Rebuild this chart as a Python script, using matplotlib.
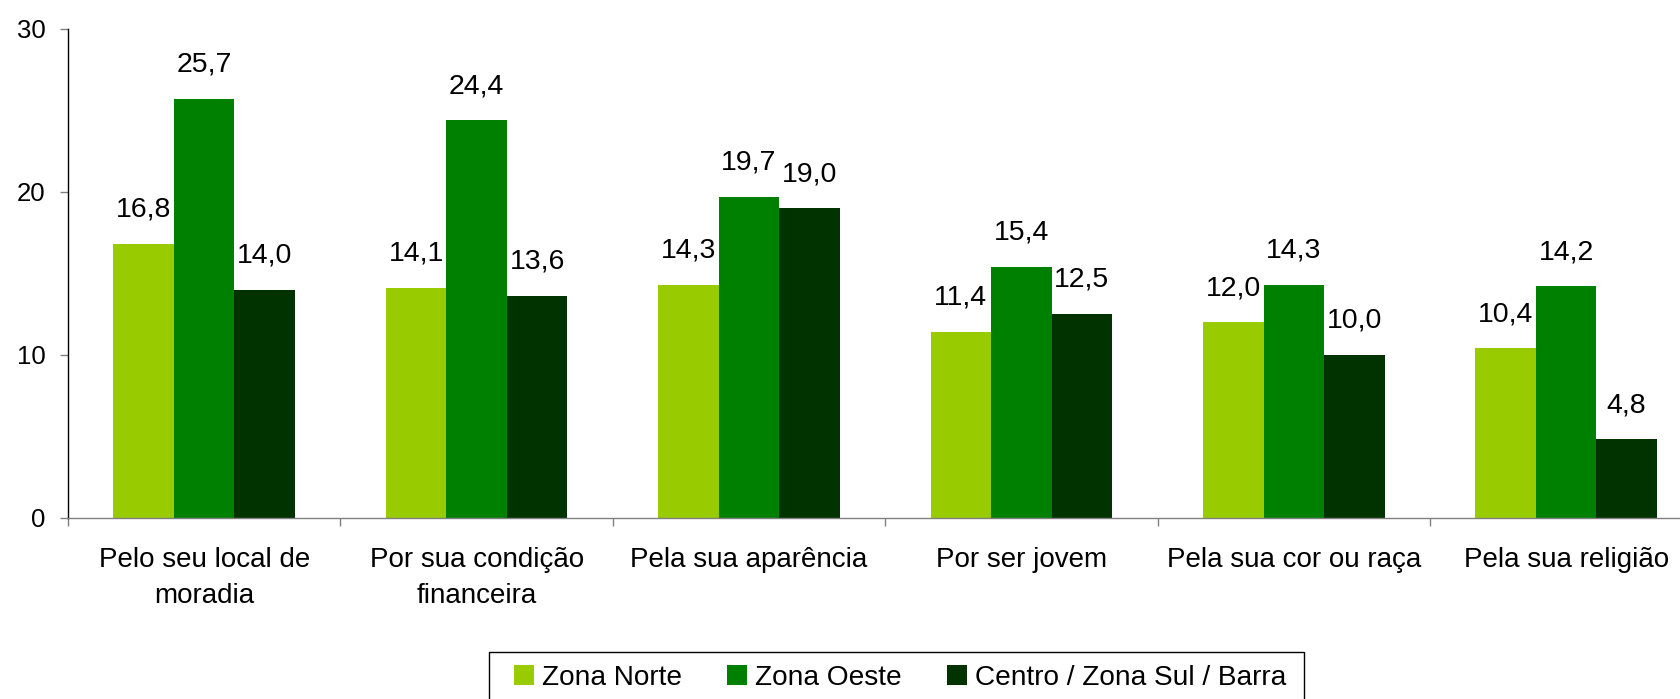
import matplotlib
matplotlib.use("Agg")
import matplotlib.pyplot as plt
from matplotlib.patches import Rectangle, Patch
import numpy as np

categories = ["Pelo seu local de\nmoradia", "Por sua condição\nfinanceira",
              "Pela sua aparência", "Por ser jovem", "Pela sua cor ou raça",
              "Pela sua religião"]
series_names = ["Zona Norte", "Zona Oeste", "Centro / Zona Sul / Barra"]
zona_norte = [16.8, 14.1, 14.3, 11.4, 12.0, 10.4]
zona_oeste = [25.7, 24.4, 19.7, 15.4, 14.3, 14.2]
centro_sul_barra = [14.0, 13.6, 19.0, 12.5, 10.0, 4.8]
colors = ["#99CC00", "#008000", "#003300"]
yticks = [0, 10, 20, 30]

plt.rcParams['font.family'] = ['Liberation Sans', 'DejaVu Sans']

W, H = 1680, 699
fig = plt.figure(figsize=(W / 100, H / 100), dpi=100)
left_px, right_px, top_px, bottom_px = 68, 1702.4, 29, 517.5
ax = fig.add_axes([left_px / W, 1 - bottom_px / H,
                   (right_px - left_px) / W, (bottom_px - top_px) / H])

x = np.arange(len(categories))
bw = 0.222
series = [zona_norte, zona_oeste, centro_sul_barra]
for k, (vals, col, name) in enumerate(zip(series, colors, series_names)):
    pos = x + (k - 1) * bw
    ax.bar(pos, vals, width=bw, color=col, edgecolor='none', label=name)
    for px_, v in zip(pos, vals):
        ax.annotate(f"{v:.1f}".replace('.', ','), (px_, v),
                    xytext=(0, 19.5), textcoords='offset points',
                    ha='center', va='baseline', fontsize=20.5, color='black')

ax.set_xlim(-0.5, len(categories) - 0.5)
ax.set_ylim(0, 30)
ax.set_yticks(yticks)
ax.set_yticklabels([str(t) for t in yticks], fontsize=18.5)
ax.tick_params(axis='y', direction='out', length=5.8, width=1, pad=10.5,
               color='#808080')

# group boundaries as major ticks, labels at minor positions
ax.set_xticks(np.arange(len(categories) + 1) - 0.5)
ax.set_xticklabels([])
ax.set_xticks(x, minor=True)
ax.set_xticklabels(categories, minor=True, fontsize=20, linespacing=1.5)
ax.tick_params(axis='x', which='major', direction='out', length=5.8,
               width=1, color='#808080')
ax.tick_params(axis='x', which='minor', length=0, pad=21)

for s in ['top', 'right']:
    ax.spines[s].set_visible(False)
ax.spines['left'].set_color('black')
ax.spines['bottom'].set_color('#808080')
ax.spines['left'].set_linewidth(1)
ax.spines['bottom'].set_linewidth(1)

# legend
handles = [Patch(facecolor=c, edgecolor='none') for c in colors]
leg = fig.legend(handles, series_names, loc='center left',
                 bbox_to_anchor=(514 / W, 1 - 678 / H), ncol=3,
                 frameon=False, fontsize=20.15, handlelength=0.7,
                 handleheight=0.7, handletextpad=0.3, columnspacing=1.62,
                 borderpad=0, borderaxespad=0)
fig.patches.append(Rectangle((489 / W, 1 - 712 / H), (1304 - 489) / W,
                             (712 - 652) / H, transform=fig.transFigure,
                             fill=False, edgecolor='black', linewidth=1))

fig.savefig("out.png", dpi=100)
